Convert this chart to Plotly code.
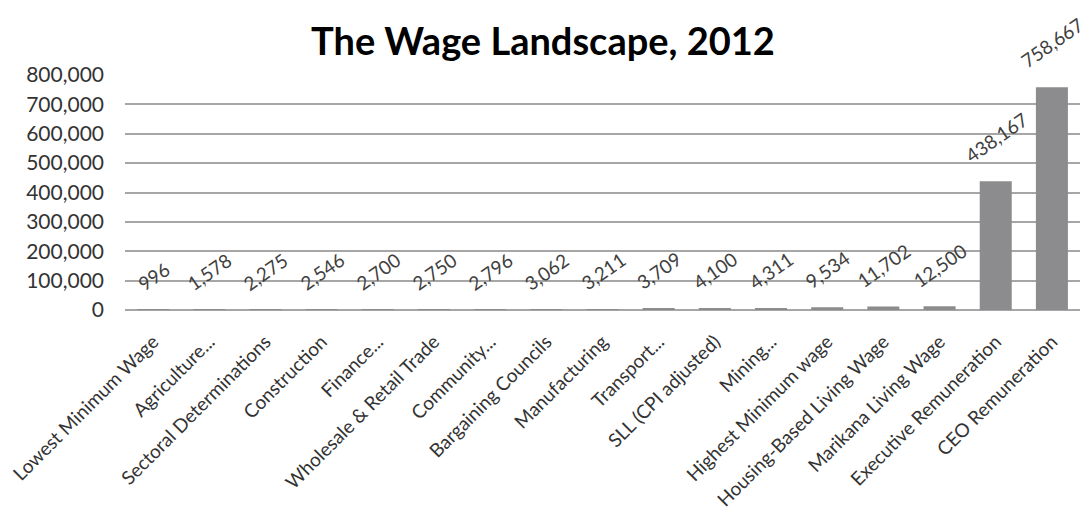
import plotly.graph_objects as go

categories = ["Lowest Minimum Wage", "Agriculture...", "Sectoral Determinations", "Construction",
              "Finance...", "Wholesale & Retail Trade", "Community...", "Bargaining Councils",
              "Manufacturing", "Transport...", "SLL (CPI adjusted)", "Mining...",
              "Highest Minimum wage", "Housing-Based Living Wage", "Marikana Living Wage",
              "Executive Remuneration", "CEO Remuneration"]
values = [996, 1578, 2275, 2546, 2700, 2750, 2796, 3062, 3211, 3709, 4100, 4311,
          9534, 11702, 12500, 438167, 758667]
y_ticks = [0, 100000, 200000, 300000, 400000, 500000, 600000, 700000, 800000]

font_family = "Lato, 'Open Sans', sans-serif"

fig = go.Figure(go.Bar(
    x=categories, y=values,
    marker=dict(color="#8c8c8e", line=dict(width=0)),
    cliponaxis=False,
))

for c, v in zip(categories, values):
    fig.add_annotation(x=c, y=v, text=f"{v:,}", showarrow=False, textangle=-35,
                       xanchor="center", yanchor="bottom", yshift=12,
                       font=dict(family=font_family, size=19, color="#404040"))

fig.update_layout(
    width=1086, height=511,
    margin=dict(l=125, r=6, t=75, b=201),
    paper_bgcolor="white", plot_bgcolor="white",
    bargap=0.43,
    showlegend=False,
    title=dict(text="<b>The Wage Landscape, 2012</b>", x=0.5, xanchor="center",
               y=0.918, yanchor="middle",
               font=dict(family=font_family, size=38, color="#000000")),
    xaxis=dict(range=[-0.5, len(categories) - 0.5], autorange=False,
               tickangle=-45, tickfont=dict(family=font_family, size=19, color="#333333"),
               showgrid=False, showline=False, ticks="", automargin=False,
               ticklabelstandoff=16),
    yaxis=dict(range=[0, 800000], tickvals=y_ticks, tickformat=",d",
               tickfont=dict(family=font_family, size=21, color="#333333"),
               showgrid=True, gridcolor="#a6a6a6", gridwidth=2,
               zeroline=True, zerolinecolor="#a6a6a6", zerolinewidth=2,
               ticklabelstandoff=20, automargin=False),
)

fig.write_html("out.html")
